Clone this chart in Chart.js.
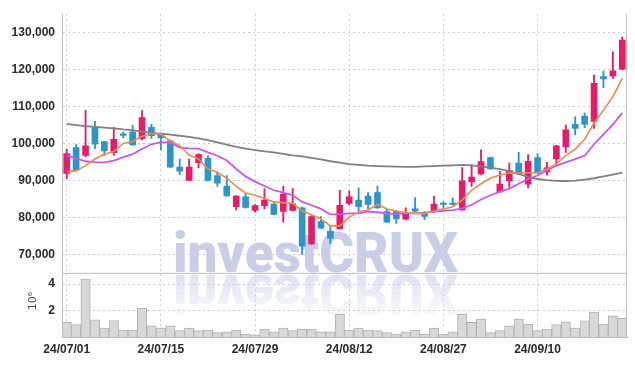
<!DOCTYPE html>
<html>
<head>
<meta charset="utf-8">
<script src="https://cdn.jsdelivr.net/npm/chart.js@4/dist/chart.umd.min.js"></script>
<style>
  html, body { margin: 0; padding: 0; background: #fff; }
  #wrap { width: 635px; height: 366px; position: relative; }
</style>
</head>
<body>
<div id="wrap"><canvas id="stockChart"></canvas></div>
<script>
// Trading days (yy/mm/dd)
const dates = [
  '24/07/01', '24/07/02', '24/07/03', '24/07/04', '24/07/05', '24/07/08', '24/07/09', '24/07/10', '24/07/11', '24/07/12',
  '24/07/15', '24/07/16', '24/07/17', '24/07/18', '24/07/19', '24/07/22', '24/07/23', '24/07/24', '24/07/25', '24/07/26',
  '24/07/29', '24/07/30', '24/07/31', '24/08/01', '24/08/02', '24/08/05', '24/08/06', '24/08/07', '24/08/08', '24/08/09',
  '24/08/12', '24/08/13', '24/08/14', '24/08/16', '24/08/19', '24/08/20', '24/08/21', '24/08/22', '24/08/23', '24/08/26',
  '24/08/27', '24/08/28', '24/08/29', '24/08/30', '24/09/02', '24/09/03', '24/09/04', '24/09/05', '24/09/06', '24/09/09',
  '24/09/10', '24/09/11', '24/09/12', '24/09/13', '24/09/19', '24/09/20', '24/09/23', '24/09/24', '24/09/25', '24/09/26'
];

const opens = [
  91900, 98900, 96800, 104300, 100500, 97500, 102400, 103100, 101300, 104400,
  102600, 100700, 93600, 90000, 94800, 96000, 91300, 88500, 82900, 85600,
  81900, 83200, 83600, 81600, 81900, 82600, 72800, 78900, 76200, 76900,
  83800, 84700, 85800, 86700, 81600, 81600, 79500, 82300, 81300, 81600,
  83700, 83800, 82000, 89600, 91800, 96200, 86900, 89900, 94700, 89000,
  96200, 92300, 95800, 99100, 105200, 107400, 106000, 118100, 118300, 120100
];
const highs = [
  98500, 99700, 109000, 106000, 100600, 104400, 103100, 105000, 108900, 105200,
  102800, 100900, 95800, 95800, 97300, 96700, 92200, 91300, 85900, 86600,
  83500, 87800, 84000, 88500, 87800, 82800, 80500, 80200, 77700, 87300,
  87100, 88000, 86700, 88500, 82200, 81800, 82600, 85400, 81500, 85800,
  84200, 85300, 93500, 94300, 98300, 96300, 92500, 94700, 97600, 97000,
  97300, 94900, 99500, 105000, 107200, 108300, 118500, 119600, 124800, 128800
];
const lows = [
  90500, 92700, 96400, 98600, 96800, 96800, 101500, 99500, 101000, 101400,
  98300, 93500, 91600, 89900, 93400, 89900, 88400, 85700, 82000, 82500,
  81400, 82300, 80700, 78700, 81700, 70000, 72700, 77000, 72900, 76800,
  83400, 81600, 82400, 82500, 78600, 78400, 79300, 81500, 79400, 81300,
  82300, 83300, 81900, 88400, 91500, 93000, 86800, 88200, 91600, 88000,
  91900, 91400, 94500, 97600, 102300, 104300, 104100, 115100, 117600, 120000
];
const closes = [
  97300, 92800, 99400, 99800, 98000, 101100, 102200, 99600, 107000, 102100,
  101500, 93600, 92500, 93600, 97000, 90000, 89300, 85800, 85800, 82700,
  83200, 84700, 80800, 86300, 83700, 72200, 80200, 77100, 74300, 83300,
  85600, 82900, 83500, 82600, 78700, 79600, 81300, 81700, 80300, 83600,
  83500, 83500, 89900, 90900, 95100, 93100, 89000, 92700, 91800, 95200,
  92000, 93400, 99400, 103700, 104100, 105200, 116300, 117500, 119700, 128000
];

// Moving averages as drawn in the picture
const ma5 = [
  92400, 92600, 94000, 95800, 97100, 97800, 100000, 100500, 102000, 102700,
  102500, 100700, 99400, 96900, 95800, 93100, 92250, 90600, 88400, 86600,
  86000, 85100, 84200, 84000, 83800, 81750, 80700, 79600, 77700, 77700,
  80000, 81560, 82000, 83500, 82300, 81750, 81300, 81100, 81100, 81750,
  82300, 82900, 84700, 87350, 89100, 90600, 91500, 92000, 92100, 92100,
  92100, 93100, 94500, 96700, 98500, 101100, 105600, 109000, 112700, 117600
];
const ma10 = [
  96700, 96000, 95200, 94900, 94900, 95400, 96300, 97100, 98500, 99800,
  100400, 100250, 98900, 98700, 98600, 97600, 96700, 95400, 93100, 91100,
  89700, 88500, 87350, 86700, 86000, 84200, 83300, 82300, 80800, 80800,
  81100, 81100, 81560, 81400, 81100, 80900, 81100, 81100, 81300, 81550,
  81800, 82000, 82450, 83350, 84850, 86000, 86900, 87800, 89100, 90400,
  91350, 92700, 94000, 94900, 95800, 96700, 99800, 102500, 105150, 108300
];
const maLong = [
  105300, 105000, 104700, 104500, 104300, 104100, 103800, 103600, 103200, 102900,
  102700, 102400, 102100, 101800, 101400, 100900, 100300, 99700, 99100, 98600,
  98200, 97900, 97600, 97200, 96800, 96500, 96100, 95700, 95200, 94800,
  94400, 94200, 94000, 93900, 93800, 93750, 93700, 93700, 93800, 93900,
  94000, 94100, 94200, 94100, 93800, 93500, 93100, 92500, 91800, 91000,
  90400, 90100, 89900, 89850, 89950, 90200, 90600, 91100, 91600, 92100
];

// Volume in millions of shares
const volumes = [
  1.10, 0.93, 4.38, 1.30, 0.68, 1.25, 0.53, 0.53, 2.16, 0.85,
  0.68, 0.85, 0.48, 0.68, 0.48, 0.53, 0.33, 0.40, 0.53, 0.23,
  0.16, 0.60, 0.40, 0.68, 0.48, 0.60, 0.60, 0.40, 0.40, 1.72,
  0.53, 0.68, 0.53, 0.48, 0.33, 0.23, 0.40, 0.53, 0.23, 0.68,
  0.23, 0.40, 1.72, 1.10, 1.35, 0.33, 0.48, 0.85, 1.35, 0.98,
  0.48, 0.60, 0.93, 1.15, 0.68, 1.22, 1.89, 0.98, 1.60, 1.42
];

const priceTicks = [70000, 80000, 90000, 100000, 110000, 120000, 130000];
const volumeTicks = [2, 4];

const UP = '#e61b69';
const DOWN = '#2c96c8';
const GRID = '#c9cbe0';
const FRAME = '#bdbdbd';
const LABEL = '#2b2b2b';
const tickFont = { family: '"Liberation Sans", Arial, sans-serif', size: 12, weight: 'bold' };

function candleColor(ctx) {
  const i = ctx.dataIndex;
  return closes[i] >= opens[i] ? UP : DOWN;
}

// Watermark with its mirrored reflection
const watermark = {
  id: 'watermark',
  beforeDatasetsDraw(chart) {
    const ctx = chart.ctx;
    const text = 'investCRUX';
    ctx.save();
    ctx.font = '900 55px Roboto, "Liberation Sans", sans-serif';
    const sx = 285 / ctx.measureText(text).width;
    ctx.translate(173, 272);
    ctx.scale(sx, 1);
    ctx.fillStyle = '#c9cee6';
    ctx.fillText(text, 0, 0);
    ctx.translate(0, 3);
    ctx.scale(1, -1);
    const g = ctx.createLinearGradient(0, 0, 0, -40);
    g.addColorStop(0, 'rgba(201, 206, 230, 0.6)');
    g.addColorStop(1, 'rgba(201, 206, 230, 0.12)');
    ctx.fillStyle = g;
    ctx.fillText(text, 0, 0);
    ctx.restore();
  }
};

// Panel separator, right edge and volume unit
const frame = {
  id: 'frame',
  beforeDatasetsDraw(chart) {
    const ctx = chart.ctx;
    const area = chart.chartArea;
    const sep = chart.scales.y.bottom;
    ctx.save();
    ctx.strokeStyle = FRAME;
    ctx.lineWidth = 1;
    ctx.beginPath();
    ctx.moveTo(area.left, sep + 0.5);
    ctx.lineTo(area.right, sep + 0.5);
    ctx.moveTo(area.right - 0.5, area.top);
    ctx.lineTo(area.right - 0.5, area.bottom);
    ctx.stroke();

    ctx.translate(33, 301);
    ctx.rotate(-Math.PI / 2);
    ctx.fillStyle = '#444';
    ctx.font = '11px "DejaVu Sans", sans-serif';
    ctx.textAlign = 'center';
    ctx.textBaseline = 'middle';
    ctx.fillText('10\u2076', 0, 0);
    ctx.restore();
  }
};

function initStockChart() {
  const ctx = document.getElementById('stockChart').getContext('2d');

  const wicks = dates.map((d, i) => [lows[i], highs[i]]);
  const bodies = dates.map((d, i) => [opens[i], closes[i]]);

  const data = {
    labels: dates,
    datasets: [
      {
        type: 'line', label: 'MA5', data: ma5, yAxisID: 'y',
        borderColor: '#ee8a50', borderWidth: 1.6, pointRadius: 0, tension: 0, order: 0
      },
      {
        type: 'line', label: 'MA10', data: ma10, yAxisID: 'y',
        borderColor: '#c957ea', borderWidth: 1.8, pointRadius: 0, tension: 0, order: 0
      },
      {
        type: 'line', label: 'MA long', data: maLong, yAxisID: 'y',
        borderColor: '#808080', borderWidth: 1.8, pointRadius: 0, tension: 0, order: 0
      },
      {
        type: 'bar', label: 'body', data: bodies, yAxisID: 'y',
        backgroundColor: candleColor, borderWidth: 0,
        barThickness: 6, minBarLength: 1.5, grouped: false, order: 1
      },
      {
        type: 'bar', label: 'wick', data: wicks, yAxisID: 'y',
        backgroundColor: candleColor, borderWidth: 0,
        barThickness: 1.2, grouped: false, order: 2
      },
      {
        type: 'bar', label: 'volume', data: volumes, yAxisID: 'yVol',
        backgroundColor: '#d8d8d8', borderColor: '#b3b3b3', borderWidth: 1,
        barPercentage: 1, categoryPercentage: 1, grouped: false, order: 3
      }
    ]
  };

  const config = {
    type: 'bar',
    data: data,
    plugins: [watermark, frame],
    options: {
      responsive: true,
      maintainAspectRatio: false,
      animation: false,
      layout: { padding: { top: 10, right: 8, left: 0, bottom: 0 } },
      plugins: {
        legend: { display: false },
        tooltip: { enabled: false }
      },
      scales: {
        x: {
          type: 'category',
          offset: true,
          grid: {
            offset: false,
            drawTicks: false,
            color: c => (c.index % 10 === 0 ? GRID : 'transparent')
          },
          border: { display: true, color: FRAME, dash: [2, 3] },
          ticks: {
            autoSkip: false,
            maxRotation: 0,
            padding: 5,
            color: LABEL,
            font: tickFont,
            callback: (v, i) => (i % 10 === 0 ? dates[i] : '')
          },
          afterFit: s => { s.height = 29; }
        },
        yVol: {
          position: 'left',
          stack: 'panes',
          stackWeight: 65,
          min: 0,
          max: 4.85,
          afterBuildTicks: s => { s.ticks = volumeTicks.map(v => ({ value: v })); },
          grid: { drawTicks: false, color: GRID },
          border: { display: true, color: FRAME, dash: [2, 3] },
          ticks: { padding: 7, color: LABEL, font: tickFont },
          afterFit: s => { s.width = 62; }
        },
        y: {
          position: 'left',
          stack: 'panes',
          stackWeight: 262,
          min: 65000,
          max: 135000,
          afterBuildTicks: s => { s.ticks = priceTicks.map(v => ({ value: v })); },
          grid: { drawTicks: false, color: GRID },
          border: { display: true, color: FRAME, dash: [2, 3] },
          ticks: {
            padding: 7,
            color: LABEL,
            font: tickFont,
            callback: v => v.toLocaleString('en-US')
          },
          afterFit: s => { s.width = 62; }
        }
      }
    }
  };

  new Chart(ctx, config);
}

document.addEventListener('DOMContentLoaded', () => {
  initStockChart();
});
</script>
</body>
</html>
